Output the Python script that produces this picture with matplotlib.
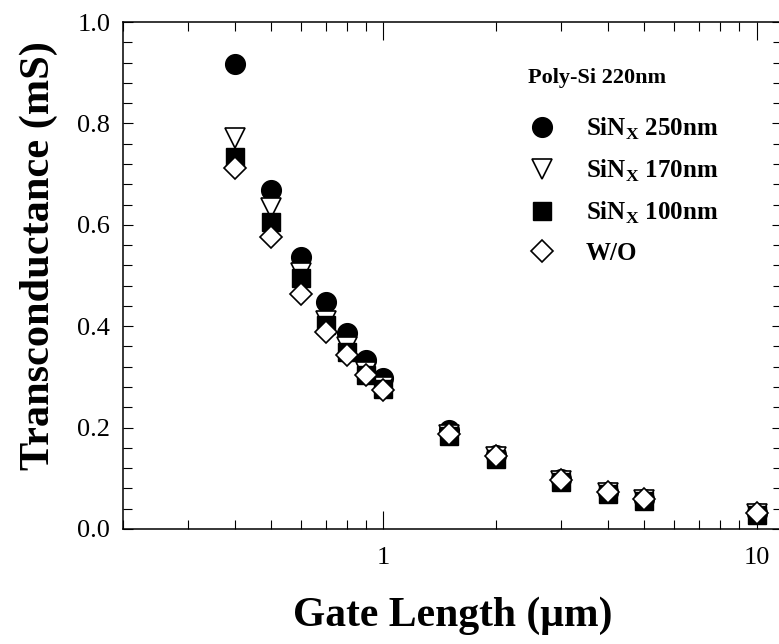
import matplotlib
matplotlib.use("Agg")
import matplotlib.pyplot as plt
from matplotlib.ticker import LogLocator, MultipleLocator, FormatStrFormatter, FuncFormatter, NullFormatter

plt.rcParams['font.family'] = ['Liberation Serif', 'DejaVu Serif']
plt.rcParams['mathtext.fontset'] = 'custom'
plt.rcParams['mathtext.rm'] = 'Liberation Serif:bold'
plt.rcParams['mathtext.bf'] = 'Liberation Serif:bold'

# gate length (um)
gate_len = [0.4, 0.5, 0.6, 0.7, 0.8, 0.9, 1.0, 1.5, 2, 3, 4, 5, 10]

# transconductance (mS)
sin_250 = [0.917, 0.668, 0.537, 0.448, 0.386, 0.333, 0.297, 0.195, 0.146, 0.098, 0.073, 0.060, 0.031]
sin_170 = [0.771, 0.634, 0.505, 0.410, 0.358, 0.310, 0.280, 0.186, 0.142, 0.095, 0.071, 0.058, 0.030]
sin_100 = [0.733, 0.606, 0.495, 0.402, 0.350, 0.304, 0.276, 0.184, 0.138, 0.093, 0.069, 0.056, 0.027]
wo      = [0.712, 0.575, 0.463, 0.389, 0.343, 0.304, 0.275, 0.187, 0.144, 0.097, 0.072, 0.060, 0.031]

labels = [r'SiN$_\mathregular{X}$ 250nm', r'SiN$_\mathregular{X}$ 170nm',
          r'SiN$_\mathregular{X}$ 100nm', 'W/O']

fig = plt.figure(figsize=(7.79, 6.44), dpi=100)
ax = fig.add_axes([0.1575, 0.1786, 0.8463, 0.7872])

ax.plot(gate_len, sin_250, 'o', ms=14.2, mfc='black', mec='black', mew=1.0, label=labels[0])
ax.plot(gate_len, sin_170, 'v', ms=15, mfc='white', mec='black', mew=1.2, label=labels[1])
ax.plot(gate_len, sin_100, 's', ms=13.4, mfc='black', mec='black', mew=1.0, label=labels[2])
ax.plot(gate_len, wo, 'D', ms=11.5, mfc='white', mec='black', mew=1.2, label=labels[3])

ax.set_xscale('log')
ax.set_xlim(0.2, 11.7)
ax.set_ylim(0, 1.0)

ax.xaxis.set_major_locator(LogLocator(base=10))
ax.xaxis.set_minor_locator(LogLocator(base=10, subs=[2, 3, 4, 5, 6, 7, 8, 9]))
ax.xaxis.set_major_formatter(FuncFormatter(lambda v, p: '%g' % v))
ax.xaxis.set_minor_formatter(NullFormatter())
ax.yaxis.set_major_locator(MultipleLocator(0.2))
ax.yaxis.set_minor_locator(MultipleLocator(0.04))
ax.yaxis.set_major_formatter(FormatStrFormatter('%.1f'))

ax.tick_params(which='both', direction='in', top=True, right=True, width=0.8, labelsize=19)
ax.tick_params(axis='x', which='major', length=13, pad=13)
ax.tick_params(axis='x', which='minor', length=6.2)
ax.tick_params(axis='y', which='major', length=7.5, pad=9)
ax.tick_params(axis='y', which='minor', length=6.2)
for s in ax.spines.values():
    s.set_linewidth(1.1)

ax.set_xlabel(u'Gate Length (\u03bcm)', fontsize=30, fontweight='bold', labelpad=20)
ax.set_ylabel('Transconductance (mS)', fontsize=30.5, fontweight='bold')
ax.yaxis.set_label_coords(-0.098, 0.54)

# legend title drawn as its own text
fig.text(528 / 779, 1 - 78 / 644, 'Poly-Si 220nm', fontsize=16, fontweight='bold',
         ha='left', va='center')
leg = ax.legend(loc='upper left', bbox_to_anchor=(513 / 779, 1 - 103 / 644),
                bbox_transform=fig.transFigure, frameon=False,
                prop={'weight': 'bold', 'size': 18},
                handletextpad=1.1, labelspacing=0.64, borderpad=0, handlelength=1.3)

fig.savefig('out.png', dpi=100)
